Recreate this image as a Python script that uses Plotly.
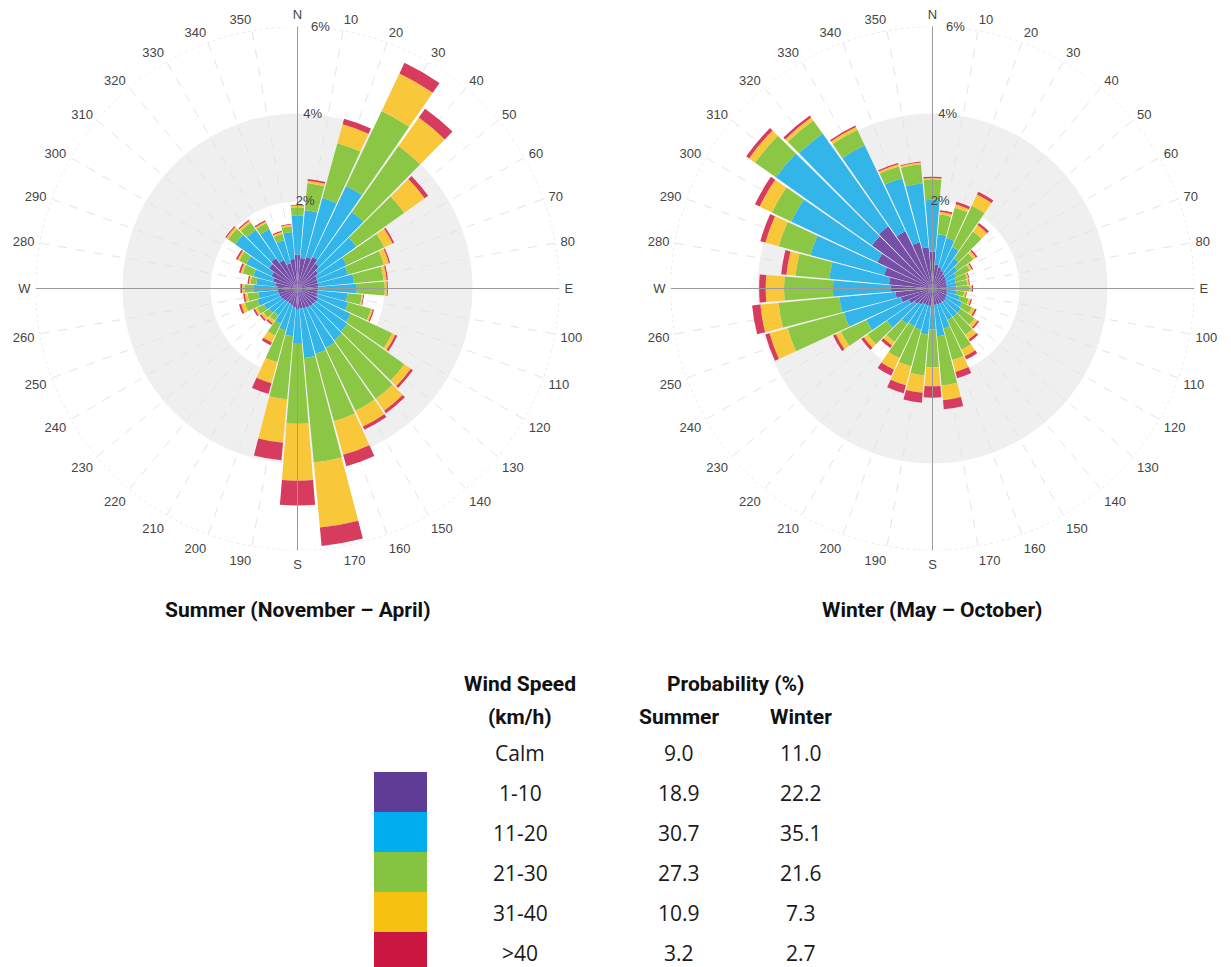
import plotly.graph_objects as go

# ---------------------------------------------------------------- data
directions = [0, 10, 20, 30, 40, 50, 60, 70, 80, 90, 100, 110, 120, 130, 140, 150, 160, 170,
              180, 190, 200, 210, 220, 230, 240, 250, 260, 270, 280, 290, 300, 310, 320, 330, 340, 350]
direction_labels = ["N", "10", "20", "30", "40", "50", "60", "70", "80", "E", "100", "110", "120",
                    "130", "140", "150", "160", "170", "S", "190", "200", "210", "220", "230", "240",
                    "250", "260", "W", "280", "290", "300", "310", "320", "330", "340", "350"]

radial_ticks = [2, 4, 6]
radial_labels = ["2%", "4%", "6%"]

speed_classes = ["Calm", "1-10", "11-20", "21-30", "31-40", ">40"]
prob_summer = ["9.0", "18.9", "30.7", "27.3", "10.9", "3.2"]
prob_winter = ["11.0", "22.2", "35.1", "21.6", "7.3", "2.7"]

# frequency (%) per direction for each speed class, Summer (November - April)
summer_1_10 = [0.78, 0.70, 0.75, 0.80, 0.70, 0.58, 0.50, 0.48, 0.48, 0.48, 0.47, 0.47, 0.52, 0.50, 0.50, 0.48, 0.47, 0.46,
               0.47, 0.43, 0.40, 0.38, 0.38, 0.40, 0.42, 0.44, 0.45, 0.46, 0.50, 0.58, 0.66, 0.80, 0.85, 0.72, 0.60, 0.68]
summer_11_20 = [0.90, 1.10, 1.40, 1.80, 1.45, 1.07, 0.75, 0.72, 0.82, 0.88, 0.68, 0.73, 0.83, 0.90, 0.95, 1.02, 1.08, 1.14,
                0.78, 0.67, 0.60, 0.52, 0.37, 0.40, 0.43, 0.51, 0.45, 0.54, 0.45, 0.47, 0.64, 0.95, 0.80, 0.78, 0.55, 0.62]
summer_21_30 = [0.18, 0.62, 1.30, 1.90, 1.85, 1.35, 0.95, 0.85, 0.68, 0.64, 0.33, 0.55, 1.05, 1.60, 1.65, 1.60, 1.60, 2.40,
                1.85, 1.45, 0.75, 0.30, 0.15, 0.15, 0.17, 0.30, 0.25, 0.22, 0.13, 0.25, 0.18, 0.20, 0.20, 0.16, 0.15, 0.13]
summer_31_40 = [0.04, 0.06, 0.45, 0.95, 0.80, 0.57, 0.21, 0.12, 0.07, 0.05, 0.03, 0.04, 0.08, 0.18, 0.33, 0.40, 0.80, 1.50,
                1.30, 1.00, 0.50, 0.17, 0.08, 0.07, 0.06, 0.09, 0.06, 0.05, 0.04, 0.05, 0.04, 0.05, 0.05, 0.04, 0.04, 0.04]
summer_over_40 = [0.02, 0.04, 0.13, 0.27, 0.25, 0.10, 0.04, 0.03, 0.03, 0.02, 0.02, 0.03, 0.05, 0.06, 0.07, 0.08, 0.27, 0.42,
                  0.57, 0.40, 0.25, 0.07, 0.04, 0.04, 0.04, 0.05, 0.04, 0.04, 0.03, 0.04, 0.04, 0.03, 0.03, 0.03, 0.03, 0.02]

# frequency (%) per direction for each speed class, Winter (May - October)
winter_1_10 = [0.85, 0.55, 0.50, 0.45, 0.40, 0.38, 0.35, 0.33, 0.33, 0.33, 0.33, 0.35, 0.36, 0.38, 0.38, 0.38, 0.38, 0.38,
               0.35, 0.40, 0.40, 0.40, 0.45, 0.50, 0.60, 0.75, 0.85, 0.95, 1.00, 1.15, 1.40, 1.70, 1.75, 1.45, 1.10, 0.95]
winter_11_20 = [1.18, 0.70, 0.70, 0.60, 0.45, 0.32, 0.25, 0.22, 0.22, 0.22, 0.22, 0.30, 0.39, 0.42, 0.42, 0.42, 0.57, 0.72,
                0.59, 0.66, 0.58, 0.55, 0.55, 0.78, 1.08, 1.35, 1.29, 1.33, 1.37, 1.75, 2.18, 2.70, 2.60, 2.18, 1.52, 1.47]
winter_21_30 = [0.47, 0.45, 0.72, 1.05, 0.75, 0.45, 0.35, 0.27, 0.25, 0.30, 0.18, 0.21, 0.25, 0.38, 0.50, 0.75, 0.75, 1.13,
                0.87, 0.94, 0.87, 0.82, 0.50, 0.54, 0.64, 1.34, 1.40, 1.12, 0.78, 0.75, 0.49, 0.58, 0.37, 0.39, 0.28, 0.44]
winter_31_40 = [0.03, 0.06, 0.08, 0.28, 0.18, 0.07, 0.05, 0.04, 0.04, 0.05, 0.04, 0.05, 0.08, 0.09, 0.13, 0.17, 0.28, 0.34,
                0.43, 0.40, 0.45, 0.29, 0.10, 0.11, 0.13, 0.43, 0.42, 0.42, 0.21, 0.32, 0.31, 0.17, 0.08, 0.07, 0.05, 0.04]
winter_over_40 = [0.03, 0.04, 0.06, 0.07, 0.06, 0.04, 0.03, 0.02, 0.02, 0.03, 0.02, 0.03, 0.04, 0.04, 0.06, 0.08, 0.15, 0.21,
                  0.26, 0.23, 0.19, 0.15, 0.07, 0.07, 0.07, 0.10, 0.19, 0.15, 0.12, 0.12, 0.12, 0.08, 0.06, 0.04, 0.03, 0.02]

# ---------------------------------------------------------------- styling
W, H = 1231, 967
R_PX = 262                      # radius of the 6 % ring in pixels
SECTOR = 9.3                    # angular width of each direction bar (leaves a thin white gap)
rose_colors = ["#7650a6", "#34b5ea", "#8cc645", "#f9c73a", "#d73c5f"]
key_colors = ["#5f3d96", "#00aeef", "#84c441", "#f6c111", "#cb1641"]
band_color = "#efefef"
label_font = dict(family="Liberation Sans, Arial, sans-serif", size=13, color="#444444")
head_font = dict(family="Roboto, Liberation Sans, sans-serif", size=21, color="#111111")
cell_font = dict(family="Open Sans, sans-serif", size=21, color="#1a1a1a")


def domain_at(cx, cy):
    return dict(x=[(cx - R_PX) / W, (cx + R_PX) / W],
                y=[1 - (cy + R_PX) / H, 1 - (cy - R_PX) / H])


def px(x, y):
    return x / W, 1 - y / H


fig = go.Figure()


def add_rose(band_sp, rose_sp, classes):
    n = len(directions)
    # grey 2 %-4 % band on the back subplot
    fig.add_trace(go.Barpolar(
        r=[2] * n, base=[2] * n, theta=directions, width=[10] * n,
        marker=dict(color=band_color, line=dict(color=band_color, width=0.6)),
        hoverinfo="skip", showlegend=False, subplot=band_sp))
    # stacked speed classes
    base = [0.0] * n
    for vals, col, name in zip(classes, rose_colors, speed_classes[1:]):
        fig.add_trace(go.Barpolar(
            r=vals, base=base, theta=directions, width=[SECTOR] * n, name=name,
            marker=dict(color=col, line=dict(width=0)), showlegend=False, subplot=rose_sp))
        base = [b + v for b, v in zip(base, vals)]
    # outer dotted 6 % ring
    ring_theta = list(range(0, 361, 2))
    fig.add_trace(go.Scatterpolar(
        r=[6] * len(ring_theta), theta=ring_theta, mode="lines",
        line=dict(color="#d9d9d9", width=1, dash="dot"),
        hoverinfo="skip", showlegend=False, subplot=rose_sp))
    # N-S and E-W axis lines
    fig.add_trace(go.Scatterpolar(
        r=[6.05, 6.05, None, 6.05, 6.05], theta=[0, 180, None, 90, 270], mode="lines",
        line=dict(color="#9a9a9a", width=1), cliponaxis=False,
        hoverinfo="skip", showlegend=False, subplot=rose_sp))
    # radial tick labels
    fig.add_trace(go.Scatterpolar(
        r=radial_ticks, theta=[5] * len(radial_ticks), mode="text", text=radial_labels,
        textfont=label_font, textposition="middle center", cliponaxis=False,
        hoverinfo="skip", showlegend=False, subplot=rose_sp))


add_rose("polar", "polar2", [summer_1_10, summer_11_20, summer_21_30, summer_31_40, summer_over_40])
add_rose("polar3", "polar4", [winter_1_10, winter_11_20, winter_21_30, winter_31_40, winter_over_40])


def band_polar(dom):
    return dict(domain=dom, bgcolor="white", barmode="overlay",
                radialaxis=dict(range=[0, 6], visible=False),
                angularaxis=dict(rotation=90, direction="clockwise", visible=False))


def rose_polar(dom):
    return dict(domain=dom, bgcolor="rgba(0,0,0,0)", barmode="overlay",
                radialaxis=dict(range=[0, 6], showgrid=False, showline=False, showticklabels=False, ticks=""),
                angularaxis=dict(rotation=90, direction="clockwise", tickmode="array", tickvals=directions,
                                 ticktext=direction_labels, tickfont=label_font,
                                 ticks="outside", ticklen=2, tickcolor="rgba(0,0,0,0)", showline=False,
                                 showgrid=True, gridcolor="#e4e4e4", griddash="dash", gridwidth=1,
                                 layer="below traces"))


left_dom = domain_at(297.5, 288.5)
right_dom = domain_at(932.5, 288.5)

annotations = []


def note(text, x, y, font):
    ax, ay = px(x, y)
    annotations.append(dict(text=text, x=ax, y=ay, xref="paper", yref="paper", showarrow=False,
                            xanchor="center", yanchor="middle", font=font))


def bold(s):
    return "<b>" + s + "</b>"


note(bold("Summer (November – April)"), 297.5, 610, head_font)
note(bold("Winter (May – October)"), 932.5, 610, head_font)

# key table
note(bold("Wind Speed"), 520, 684, head_font)
note(bold("(km/h)"), 520, 717, head_font)
note(bold("Probability (%)"), 735, 684, head_font)
note(bold("Summer"), 679, 717, head_font)
note(bold("Winter"), 801, 717, head_font)
row_y = [753, 793, 833, 873, 913, 953]
for i, (cls, ps, pw) in enumerate(zip(speed_classes, prob_summer, prob_winter)):
    note(cls, 520, row_y[i], cell_font)
    note(ps, 679, row_y[i], cell_font)
    note(pw, 801, row_y[i], cell_font)

shapes = []
for i, col in enumerate(key_colors):
    top = 772 + 40 * i
    bottom = min(top + 40, H)
    x0, y0 = px(374, bottom)
    x1, y1 = px(427, top)
    shapes.append(dict(type="rect", xref="paper", yref="paper", x0=x0, x1=x1, y0=y0, y1=y1,
                       fillcolor=col, line=dict(width=0), layer="above"))

fig.update_layout(
    width=W, height=H, margin=dict(l=0, r=0, t=0, b=0),
    paper_bgcolor="white", plot_bgcolor="white", showlegend=False,
    polar=band_polar(left_dom), polar2=rose_polar(left_dom),
    polar3=band_polar(right_dom), polar4=rose_polar(right_dom),
    annotations=annotations, shapes=shapes)

fig.write_html("out.html")
